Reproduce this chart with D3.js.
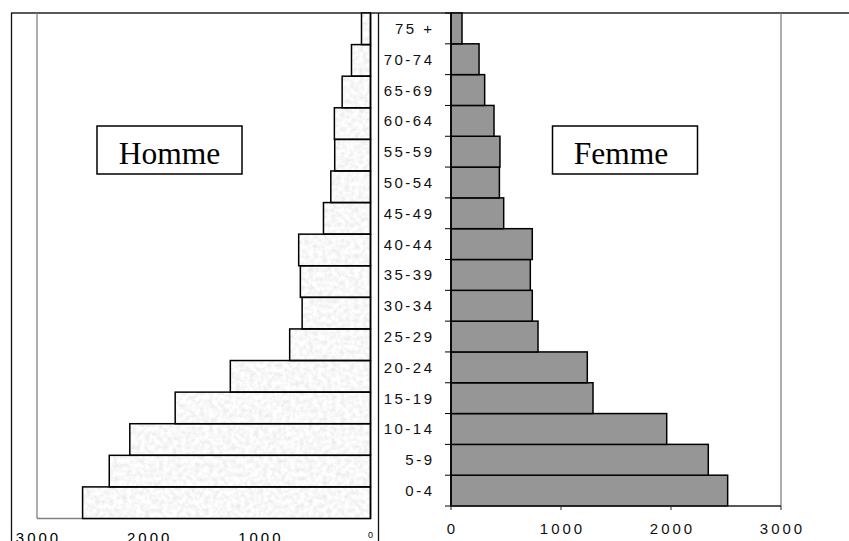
<!DOCTYPE html>
<html><head><meta charset="utf-8">
<script src="https://cdn.jsdelivr.net/npm/d3@7/dist/d3.min.js"></script>
<style>html,body{margin:0;padding:0;background:#fff;overflow:hidden}</style>
</head><body>
<svg id="c" width="849" height="541"></svg>
<script>
const categories = ["0-4","5-9","10-14","15-19","20-24","25-29","30-34","35-39","40-44","45-49","50-54","55-59","60-64","65-69","70-74","75 +"];
const hommeValues = [2590, 2350, 2165, 1757, 1261, 727, 615, 631, 646, 423, 357, 322, 325, 255, 171, 81];
const femmeValues = [2515, 2339, 1961, 1291, 1239, 791, 739, 721, 739, 479, 440, 445, 391, 306, 255, 100];
const xTicks = [0, 1000, 2000, 3000];
const seriesNames = ["Homme", "Femme"];

(function(){
const svg = d3.select("#c");
const defs = svg.append("defs");
const f = defs.append("filter").attr("id","granite").attr("x",0).attr("y",0).attr("width",1).attr("height",1);
f.append("feTurbulence").attr("type","fractalNoise").attr("baseFrequency",0.22).attr("numOctaves",3).attr("seed",5).attr("result","n");
f.append("feColorMatrix").attr("in","n").attr("type","matrix")
 .attr("values","0.32 0 0 0 0.78  0.32 0 0 0 0.78  0.32 0 0 0 0.78  0 0 0 0 1").attr("result","g");
f.append("feComposite").attr("in","g").attr("in2","SourceGraphic").attr("operator","in");

const plotTop = 13;
const xL = d3.scaleLinear().domain([0, 3000]).range([370.5, 37]);
const yL = d3.scaleBand().domain(categories.slice().reverse()).range([plotTop, 518.5]).padding(0);
const xR = d3.scaleLinear().domain([0, 3000]).range([451, 781]);
const yR = d3.scaleBand().domain(categories.slice().reverse()).range([plotTop, 506]).padding(0);

const font = "'Liberation Sans', Arial, sans-serif";

svg.append("line").attr("x1",11).attr("x2",849).attr("y1",plotTop).attr("y2",plotTop).attr("stroke","#222").attr("stroke-width",1.3);
svg.append("line").attr("x1",11.5).attr("x2",11.5).attr("y1",plotTop).attr("y2",541).attr("stroke","#111").attr("stroke-width",1.3);
svg.append("line").attr("x1",378.5).attr("x2",378.5).attr("y1",plotTop).attr("y2",541).attr("stroke","#111").attr("stroke-width",1.3);

svg.append("line").attr("x1",xL(3000)).attr("x2",xL(3000)).attr("y1",plotTop).attr("y2",518.5).attr("stroke","#808080").attr("stroke-width",1.3);
svg.append("line").attr("x1",xL(3000)).attr("x2",xL(0)).attr("y1",518.5).attr("y2",518.5).attr("stroke","#808080").attr("stroke-width",1.3);

const gL = svg.append("g");
gL.selectAll("rect.fill").data(categories).join("rect").attr("class","fill")
  .attr("x", (d,i)=>xL(hommeValues[i])).attr("y", d=>yL(d))
  .attr("width", (d,i)=>xL(0)-xL(hommeValues[i])).attr("height", yL.bandwidth())
  .attr("fill","#eee").attr("filter","url(#granite)");
gL.selectAll("rect.edge").data(categories).join("rect").attr("class","edge")
  .attr("x", (d,i)=>xL(hommeValues[i])).attr("y", d=>yL(d))
  .attr("width", (d,i)=>xL(0)-xL(hommeValues[i])).attr("height", yL.bandwidth())
  .attr("fill","none").attr("stroke","#000").attr("stroke-width",1.5);
svg.append("line").attr("x1",xL(0)).attr("x2",xL(0)).attr("y1",plotTop).attr("y2",519).attr("stroke","#000").attr("stroke-width",1.5);

xTicks.forEach(t=>{
  if (t === 0) {
    svg.append("text").attr("x",xL(0)).attr("y",538).attr("text-anchor","middle")
      .attr("font-family",font).attr("font-size",9).text(t);
  } else {
    svg.append("text").attr("x",xL(t)+1.5).attr("y",542.5).attr("text-anchor","middle")
      .attr("font-family",font).attr("font-size",15).attr("letter-spacing",3).text(t);
  }
});

svg.append("line").attr("x1",xR(3000)).attr("x2",xR(3000)).attr("y1",plotTop).attr("y2",506).attr("stroke","#808080").attr("stroke-width",1.3);

svg.append("g").selectAll("rect").data(categories).join("rect")
  .attr("x", xR(0)).attr("y", d=>yR(d))
  .attr("width", (d,i)=>xR(femmeValues[i])-xR(0)).attr("height", yR.bandwidth())
  .attr("fill","#969696").attr("stroke","#000").attr("stroke-width",1.5);

const ay = svg.append("g").attr("transform",`translate(${xR(0)},0)`);
ay.append("line").attr("y1",plotTop).attr("y2",506).attr("stroke","#000").attr("stroke-width",1.5);
const bounds = categories.map(c=>yR(c)).concat([yR(categories[0]) + yR.bandwidth()]);
ay.selectAll("line.tk").data(bounds).join("line").attr("class","tk")
  .attr("x1",-6).attr("x2",0).attr("y1",d=>d).attr("y2",d=>d).attr("stroke","#000").attr("stroke-width",1);
ay.selectAll("text").data(categories).join("text")
  .attr("x",-16.5).attr("y",d=>yR(d)+yR.bandwidth()/2+5.5).attr("text-anchor","end")
  .attr("font-family",font).attr("font-size",15).attr("letter-spacing",2.5).attr("fill","#111")
  .text(d=>d);

svg.append("line").attr("x1",xR(0)).attr("x2",xR(3000)).attr("y1",506).attr("y2",506).attr("stroke","#222").attr("stroke-width",1.3);
svg.selectAll("line.xt").data(xTicks).join("line").attr("class","xt")
  .attr("x1",d=>xR(d)).attr("x2",d=>xR(d)).attr("y1",506).attr("y2",510).attr("stroke","#222").attr("stroke-width",1);
svg.selectAll("text.xl").data(xTicks).join("text").attr("class","xl")
  .attr("x",d=>xR(d)+1.5).attr("y",533.5).attr("text-anchor","middle")
  .attr("font-family",font).attr("font-size",15).attr("letter-spacing",3).attr("fill","#111").text(d=>d);

const boxes = [
  {name: seriesNames[0], x: 97, y: 126, w: 145, h: 48, tx: 169.5},
  {name: seriesNames[1], x: 552.5, y: 126, w: 145, h: 48, tx: 621}
];
boxes.forEach(b=>{
  svg.append("rect").attr("x",b.x).attr("y",b.y).attr("width",b.w).attr("height",b.h)
    .attr("fill","#fff").attr("stroke","#000").attr("stroke-width",1.5);
  svg.append("text").attr("x",b.tx).attr("y",163.5).attr("text-anchor","middle")
    .attr("font-family","'Liberation Serif','Times New Roman',serif").attr("font-size",31.5).text(b.name);
});
})();
</script>
</body></html>
